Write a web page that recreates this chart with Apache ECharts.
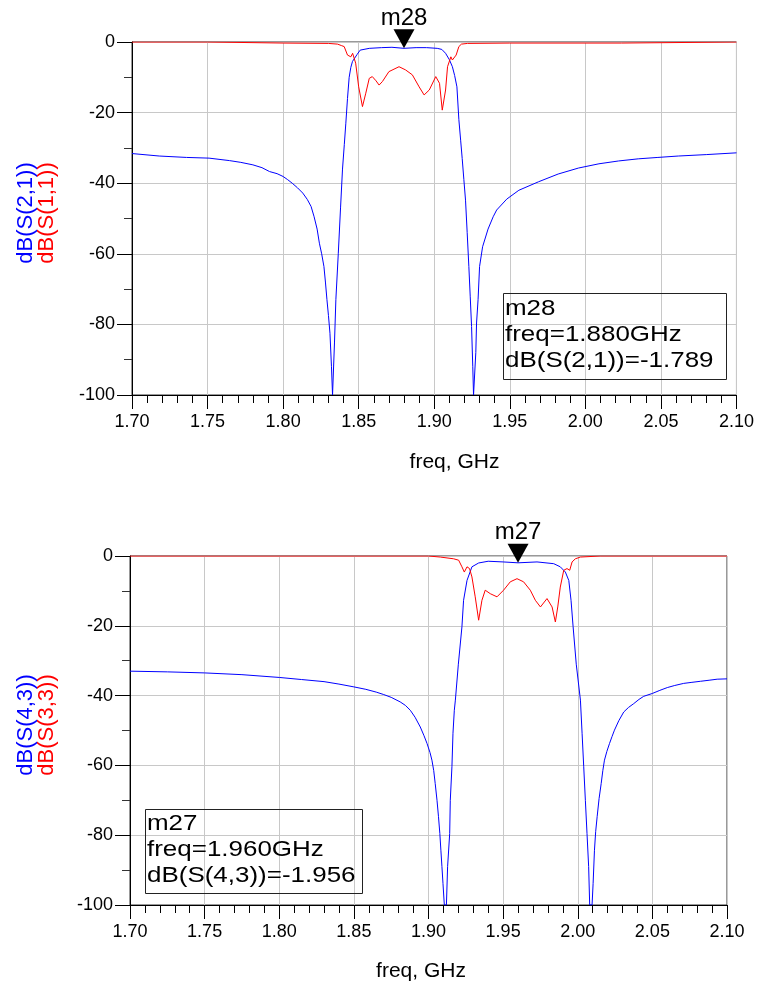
<!DOCTYPE html>
<html>
<head>
<meta charset="utf-8">
<script src="https://cdn.jsdelivr.net/npm/echarts@6/dist/echarts.min.js"></script>
<style>
html,body{margin:0;padding:0;background:#ffffff;}
#chart{width:757px;height:985px;}
</style>
</head>
<body>
<div id="chart"></div>
<script>
// ---------- tick labels ----------
var xTickLabels = ['1.70','1.75','1.80','1.85','1.90','1.95','2.00','2.05','2.10'];
var yTickLabels = ['-100','-80','-60','-40','-20','0'];

// ---------- top chart: dB(S(2,1)) ----------
var topS21Freq = [1.700,1.718,1.736,1.751,1.7645,1.772,1.780,1.786,1.791,1.796,1.800,1.803,1.806,1.8095,1.813,1.816,1.8185,1.8205,1.8225,1.824,1.8255,1.827,1.828,1.829,1.830,1.831,1.832,1.8327,1.8334,1.834,1.8349,1.8365,1.838,1.8393,1.8405,1.8415,1.8426,1.8437,1.8448,1.8459,1.849,1.851,1.857,1.865,1.872,1.880,1.888,1.895,1.902,1.905,1.9075,1.910,1.912,1.9135,1.915,1.9163,1.9175,1.9185,1.9196,1.9207,1.9218,1.9229,1.9238,1.9247,1.9255,1.926,1.9267,1.9275,1.928,1.929,1.930,1.932,1.9356,1.939,1.9413,1.948,1.956,1.969,1.982,1.9955,2.009,2.022,2.035,2.048,2.0615,2.080,2.100];
var topS21dB   = [-31.6,-32.3,-32.7,-32.9,-33.6,-34.1,-34.8,-35.6,-36.7,-37.3,-38.1,-39.0,-40.0,-41.3,-42.8,-44.6,-46.6,-49.5,-53.0,-57.0,-60.0,-63.6,-68.0,-73.0,-77.5,-82.5,-92.0,-100,-100,-85.0,-73.0,-60.0,-47.0,-36.0,-29.0,-23.0,-16.0,-10.0,-7.2,-5.5,-3.5,-2.3,-1.8,-1.6,-1.5,-1.789,-1.6,-1.6,-1.8,-2.1,-3.2,-5.0,-7.0,-9.5,-12.7,-22.0,-28.0,-33.0,-39.0,-44.8,-54.0,-63.6,-72.0,-80.6,-92.0,-100,-100,-88.0,-79.6,-73.0,-63.6,-58.0,-53.0,-49.5,-47.6,-44.5,-42.0,-39.6,-37.4,-35.7,-34.5,-33.7,-33.1,-32.7,-32.3,-31.9,-31.4];

// ---------- top chart: dB(S(1,1)) ----------
var topS11Freq = [1.700,1.750,1.751,1.800,1.830,1.836,1.8385,1.8404,1.8426,1.8448,1.846,1.847,1.848,1.850,1.8525,1.8547,1.857,1.859,1.8615,1.8635,1.8657,1.870,1.8767,1.881,1.8855,1.890,1.8933,1.8967,1.901,1.9035,1.9053,1.9075,1.9088,1.911,1.912,1.9145,1.9163,1.918,1.922,1.950,2.024,2.025,2.100];
var topS11dB   = [0,0,-0.3,-0.3,-0.4,-0.6,-1.0,-1.3,-3.7,-4.2,-3.2,-3.2,-6.0,-12.7,-18.3,-14.5,-10.3,-9.8,-11.0,-12.2,-11.2,-8.4,-7.0,-7.9,-9.3,-12.7,-15.0,-13.6,-9.8,-11.7,-19.3,-13.6,-7.0,-4.2,-5.1,-3.7,-1.3,-0.6,-0.4,-0.3,-0.3,0,0];

// ---------- bottom chart: dB(S(4,3)) ----------
var botS43Freq = [1.700,1.725,1.750,1.775,1.800,1.815,1.830,1.840,1.850,1.858,1.865,1.870,1.875,1.881,1.8845,1.8878,1.891,1.8945,1.897,1.899,1.901,1.9023,1.9035,1.9045,1.9057,1.9067,1.9076,1.9083,1.909,1.9097,1.9106,1.912,1.9128,1.9142,1.9146,1.9157,1.9164,1.9173,1.918,1.920,1.9224,1.9235,1.9258,1.9291,1.9336,1.940,1.950,1.960,1.9727,1.9839,1.9883,1.9917,1.994,1.9955,1.9969,1.999,2.0018,2.0029,2.004,2.0051,2.0062,2.0073,2.008,2.0096,2.0103,2.0112,2.012,2.013,2.0143,2.0157,2.0168,2.0179,2.0195,2.0213,2.023,2.0246,2.0275,2.0308,2.034,2.0375,2.041,2.0442,2.0499,2.055,2.060,2.065,2.071,2.0765,2.0822,2.088,2.0934,2.100];
var botS43dB   = [-33.0,-33.2,-33.5,-34.0,-34.8,-35.4,-36.0,-36.7,-37.5,-38.2,-39.0,-39.7,-40.5,-41.8,-42.8,-44.2,-46.2,-49.0,-51.5,-53.7,-56.3,-58.5,-61.5,-65.2,-70.0,-74.7,-79.5,-84.3,-89.0,-93.8,-100,-100,-89.0,-79.5,-70.0,-60.4,-50.8,-44.2,-41.3,-31.0,-20.3,-12.7,-7.0,-3.1,-2.0,-1.5,-1.7,-1.956,-1.7,-2.2,-3.1,-4.6,-7.0,-12.7,-20.3,-31.0,-41.3,-50.8,-60.4,-70.0,-79.5,-89.0,-100,-100,-93.8,-84.3,-79.0,-74.7,-69.5,-65.2,-61.5,-58.5,-56.0,-53.7,-51.7,-49.9,-47.2,-44.7,-43.4,-42.3,-41.1,-40.2,-39.4,-38.5,-37.7,-37.1,-36.5,-36.2,-35.9,-35.6,-35.3,-35.2];

// ---------- bottom chart: dB(S(3,3)) ----------
var botS33Freq = [1.700,1.900,1.9079,1.9168,1.9202,1.9224,1.924,1.9258,1.9275,1.9291,1.9313,1.9336,1.9358,1.938,1.9414,1.9459,1.9503,1.9548,1.9593,1.9637,1.9682,1.9716,1.975,1.9794,1.9828,1.985,1.9866,1.9883,1.9906,1.9928,1.9946,1.9962,1.9984,2.0018,2.015,2.100];
var botS33dB   = [0,0,-0.3,-0.8,-1.2,-3.1,-4.6,-3.1,-3.6,-6.0,-11.7,-18.4,-12.7,-9.8,-10.8,-11.7,-9.8,-7.4,-6.5,-7.4,-9.8,-12.7,-14.6,-12.2,-14.6,-18.9,-14.6,-8.9,-4.1,-3.6,-4.1,-1.7,-0.8,-0.3,0,0];

// ---------- markers ----------
var markerNames = ['m28','m27'];
var markerFreq  = [1.880, 1.960];
var markerValue = [-1.789, -1.956];
var markerTrace = ['dB(S(2,1))','dB(S(4,3))'];

function zip(f, v){ var out=[]; for(var i=0;i<f.length;i++){ out.push([f[i], v[i]]); } return out; }

var FONT = '"Liberation Sans", Arial, sans-serif';
var grids = [
  {left:132, top:42, width:606, height:353},
  {left:130, top:556, width:597, height:349}
];

function xAxisCfg(i){
  return {
    type:'value', gridIndex:i, min:1.7, max:2.1, interval:0.05,
    axisLine:{show:true, onZero:false, lineStyle:{color:'#000', width:1}},
    axisTick:{show:true, inside:false, length:14, lineStyle:{color:'#000', width:1}},
    minorTick:{show:true, splitNumber:5, length:8, lineStyle:{color:'#000', width:1}},
    splitLine:{show:true, lineStyle:{color:'#c8c8c8', width:1}},
    axisLabel:{margin:18, fontSize:18, color:'#000', fontFamily:FONT, showMinLabel:true, showMaxLabel:true,
      formatter:function(v){ return xTickLabels[Math.round((v-1.7)/0.05)]; }}
  };
}
function yAxisCfg(i){
  return {
    type:'value', gridIndex:i, min:-100, max:0, interval:20,
    axisLine:{show:true, onZero:false, lineStyle:{color:'#000', width:1}},
    axisTick:{show:true, inside:false, length:15, lineStyle:{color:'#000', width:1}},
    minorTick:{show:true, splitNumber:2, length:8, lineStyle:{color:'#333', width:1}},
    splitLine:{show:true, lineStyle:{color:'#c8c8c8', width:1}},
    axisLabel:{margin:17, fontSize:18, color:'#000', fontFamily:FONT, showMinLabel:true, showMaxLabel:true,
      formatter:function(v){ return yTickLabels[Math.round((v+100)/20)]; }}
  };
}

function markerCfg(k){
  return {
    z:10,
    symbol:'path://M0,0 L21,0 L10.5,19 Z',
    symbolSize:[21,19],
    symbolOffset:[0,'-50%'],
    itemStyle:{color:'#000'},
    label:{show:true, position:'top', distance:-1, formatter:markerNames[k], fontSize:24, color:'#000', fontFamily:FONT},
    data:[{coord:[markerFreq[k], markerValue[k]]}]
  };
}

function lineSeries(name, f, v, color, idx, mark){
  var s = {
    name:name, type:'line', xAxisIndex:idx, yAxisIndex:idx,
    data:zip(f, v), showSymbol:false, symbol:'none', clip:true,
    lineStyle:{color:color, width:1}, itemStyle:{color:color}
  };
  if(mark !== undefined) s.markPoint = markerCfg(mark);
  return s;
}

function boxText(k){
  return markerNames[k] + '\nfreq=' + markerFreq[k].toFixed(3) + 'GHz\n' + markerTrace[k] + '=' + markerValue[k].toFixed(3);
}

var chart = echarts.init(document.getElementById('chart'), null, {renderer:'canvas'});
chart.setOption({
  animation:false,
  backgroundColor:'#ffffff',
  grid:grids.map(function(g){ return Object.assign({show:true, borderColor:'#333', borderWidth:1, backgroundColor:'transparent'}, g); }),
  xAxis:[xAxisCfg(0), xAxisCfg(1)],
  yAxis:[yAxisCfg(0), yAxisCfg(1)],
  series:[
    lineSeries('dB(S(2,1))', topS21Freq, topS21dB, '#0000ff', 0, 0),
    lineSeries('dB(S(1,1))', topS11Freq, topS11dB, '#ff0000', 0),
    lineSeries('dB(S(4,3))', botS43Freq, botS43dB, '#0000ff', 1, 1),
    lineSeries('dB(S(3,3))', botS33Freq, botS33dB, '#ff0000', 1)
  ],
  graphic:[
    {type:'rect', z:50, shape:{x:503.5, y:293.5, width:223, height:86}, style:{fill:'none', stroke:'#222', lineWidth:1}},
    {type:'text', z:51, x:505, y:296, scaleX:1.18, style:{text:boxText(0), font:'22px ' + FONT, fill:'#000', lineHeight:26, verticalAlign:'top'}},
    {type:'rect', z:50, shape:{x:145.5, y:809.5, width:217, height:84}, style:{fill:'none', stroke:'#222', lineWidth:1}},
    {type:'text', z:51, x:147, y:811, scaleX:1.18, style:{text:boxText(1), font:'22px ' + FONT, fill:'#000', lineHeight:26, verticalAlign:'top'}},
    {type:'text', z:51, x:454.5, y:462, style:{text:'freq, GHz', font:'21px ' + FONT, fill:'#000', align:'center', verticalAlign:'middle'}},
    {type:'text', z:51, x:421, y:971, style:{text:'freq, GHz', font:'21px ' + FONT, fill:'#000', align:'center', verticalAlign:'middle'}},
    {type:'text', z:51, x:36, y:213, rotation:Math.PI/2,
      style:{text:'{b|dB(S(2,1))}\n{r|dB(S(1,1))}', font:'22px ' + FONT, align:'center', verticalAlign:'middle', lineHeight:21,
        rich:{b:{fill:'#0000ff', font:'22px ' + FONT, lineHeight:21}, r:{fill:'#ff0000', font:'22px ' + FONT, lineHeight:21}}}},
    {type:'text', z:51, x:36, y:725, rotation:Math.PI/2,
      style:{text:'{b|dB(S(4,3))}\n{r|dB(S(3,3))}', font:'22px ' + FONT, align:'center', verticalAlign:'middle', lineHeight:21,
        rich:{b:{fill:'#0000ff', font:'22px ' + FONT, lineHeight:21}, r:{fill:'#ff0000', font:'22px ' + FONT, lineHeight:21}}}}
  ]
});
</script>
</body>
</html>
